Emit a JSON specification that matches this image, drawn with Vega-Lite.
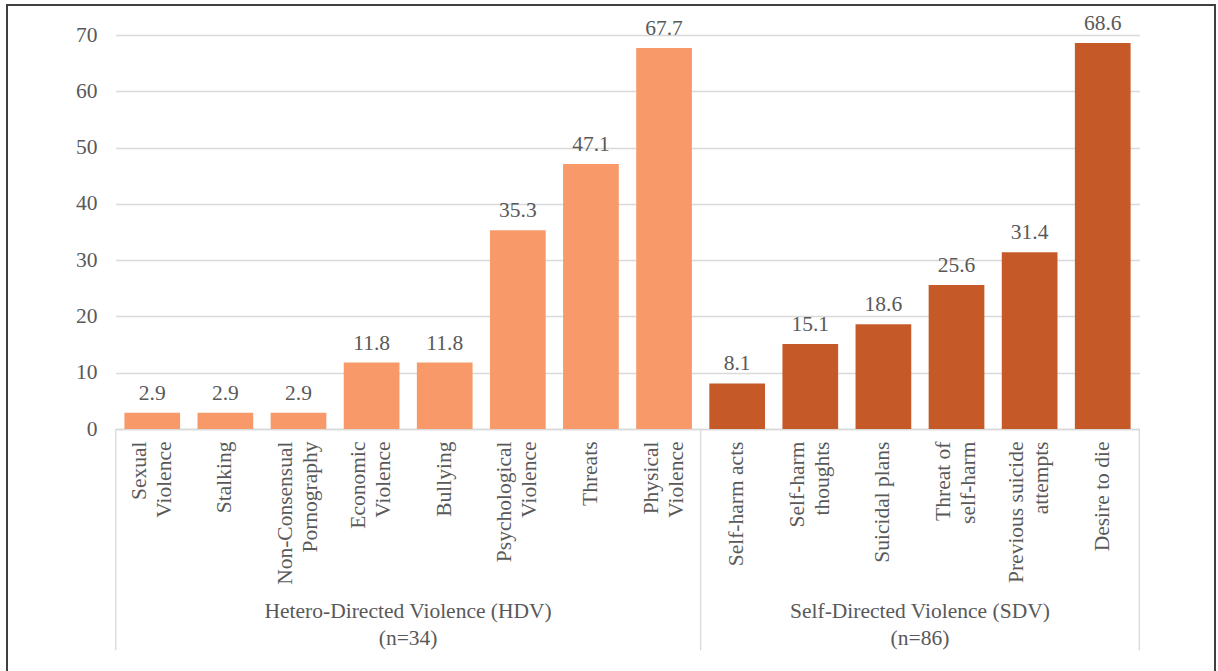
{
  "$schema": "https://vega.github.io/schema/vega-lite/v6.json",
  "width": 1208,
  "height": 669,
  "autosize": {"type": "none"},
  "padding": {"left": 7, "top": 5, "right": 3, "bottom": -3},
  "background": "white",
  "config": {
    "view": {"stroke": "#404040", "strokeWidth": 2},
    "font": "Liberation Serif",
    "text": {"font": "Liberation Serif"}
  },
  "data": {
    "values": [
      {"category": "Sexual Violence", "group": "HDV", "value": 2.9},
      {"category": "Stalking", "group": "HDV", "value": 2.9},
      {"category": "Non-Consensual Pornography", "group": "HDV", "value": 2.9},
      {"category": "Economic Violence", "group": "HDV", "value": 11.8},
      {"category": "Bullying", "group": "HDV", "value": 11.8},
      {"category": "Psychological Violence", "group": "HDV", "value": 35.3},
      {"category": "Threats", "group": "HDV", "value": 47.1},
      {"category": "Physical Violence", "group": "HDV", "value": 67.7},
      {"category": "Self-harm acts", "group": "SDV", "value": 8.1},
      {"category": "Self-harm thoughts", "group": "SDV", "value": 15.1},
      {"category": "Suicidal plans", "group": "SDV", "value": 18.6},
      {"category": "Threat of self-harm", "group": "SDV", "value": 25.6},
      {"category": "Previous suicide attempts", "group": "SDV", "value": 31.4},
      {"category": "Desire to die", "group": "SDV", "value": 68.6}
    ]
  },
  "layer": [
    {
      "mark": {"type": "bar", "width": {"band": 0.762}},
      "encoding": {
        "x": {
          "field": "category",
          "type": "nominal",
          "title": null,
          "scale": {
            "domain": ["Sexual Violence", "Stalking", "Non-Consensual Pornography", "Economic Violence", "Bullying", "Psychological Violence", "Threats", "Physical Violence", "Self-harm acts", "Self-harm thoughts", "Suicidal plans", "Threat of self-harm", "Previous suicide attempts", "Desire to die"],
            "range": [108.7, 1132.3],
            "paddingInner": 0,
            "paddingOuter": 0
          },
          "axis": {
            "orient": "bottom",
            "offset": -245,
            "labelAngle": 270,
            "labelFont": "Liberation Serif",
            "labelFontSize": 21.5,
            "labelColor": "#595959",
            "labelPadding": 12,
            "labelLineHeight": 25,
            "labelLimit": 0,
            "labelOverlap": false,
            "labelBound": false,
            "labelOffset": {
              "condition": {"test": "indexof(['Stalking', 'Bullying', 'Threats', 'Self-harm acts', 'Suicidal plans', 'Desire to die'], datum.label) < 0", "value": -12.5},
              "value": 0
            },
            "ticks": false,
            "grid": false,
            "domain": true,
            "domainColor": "#D9D9D9",
            "domainWidth": 1.3,
            "labelExpr": "{'Sexual Violence': ['Sexual\u00a0\u00a0', 'Violence'], 'Non-Consensual Pornography': ['Non-Consensual', 'Pornography\u00a0\u00a0\u00a0'], 'Economic Violence': ['Economic', 'Violence\u00a0'], 'Psychological Violence': ['Psychological', 'Violence\u00a0\u00a0\u00a0\u00a0'], 'Physical Violence': ['Physical', 'Violence'], 'Self-harm thoughts': ['Self-harm', 'thoughts\u00a0'], 'Threat of self-harm': ['Threat of', 'self-harm'], 'Previous suicide attempts': ['Previous suicide', 'attempts\u00a0\u00a0\u00a0\u00a0\u00a0\u00a0']}[datum.label] || datum.label"
          }
        },
        "y": {
          "field": "value",
          "type": "quantitative",
          "title": null,
          "scale": {"domain": [0, 70], "range": [424, 30], "nice": false, "zero": true},
          "axis": {
            "orient": "left",
            "offset": -98,
            "values": [0, 10, 20, 30, 40, 50, 60, 70],
            "domain": false,
            "ticks": false,
            "labelPadding": 8,
            "labelFont": "Liberation Serif",
            "labelFontSize": 21.5,
            "labelColor": "#595959",
            "grid": true,
            "gridColor": "#D9D9D9",
            "gridWidth": 1.3
          }
        },
        "color": {
          "field": "group",
          "type": "nominal",
          "scale": {"domain": ["HDV", "SDV"], "range": ["#F8996A", "#C55A28"]},
          "legend": null
        }
      }
    },
    {
      "mark": {"type": "text", "baseline": "alphabetic", "align": "center", "dy": -13, "fontSize": 21.5, "color": "#595959", "font": "Liberation Serif"},
      "encoding": {
        "x": {"field": "category", "type": "nominal"},
        "y": {"field": "value", "type": "quantitative"},
        "text": {"field": "value", "type": "quantitative", "format": ".1f"}
      }
    },
    {
      "data": {"values": [{"category": "Sexual Violence"}, {"category": "Self-harm acts"}]},
      "mark": {"type": "rule", "color": "#D9D9D9", "strokeWidth": 1.3},
      "encoding": {
        "x": {"field": "category", "type": "nominal", "bandPosition": 0},
        "y": {"datum": 0},
        "y2": {"datum": -39.3}
      }
    },
    {
      "data": {"values": [{"category": "Desire to die"}]},
      "mark": {"type": "rule", "color": "#D9D9D9", "strokeWidth": 1.3},
      "encoding": {
        "x": {"field": "category", "type": "nominal", "bandPosition": 1},
        "y": {"datum": 0},
        "y2": {"datum": -39.3}
      }
    },
    {
      "data": {"values": [
        {"label": "Hetero-Directed Violence (HDV)\n(n=34)", "category": "Bullying"},
        {"label": "Self-Directed Violence (SDV)\n(n=86)", "category": "Threat of self-harm"}
      ]},
      "mark": {"type": "text", "lineBreak": "\n", "lineHeight": 27, "fontSize": 21.5, "color": "#595959", "font": "Liberation Serif", "align": "center", "baseline": "middle"},
      "encoding": {
        "x": {"field": "category", "type": "nominal", "bandPosition": 0},
        "y": {"datum": -32.6},
        "text": {"field": "label"}
      }
    }
  ]
}
